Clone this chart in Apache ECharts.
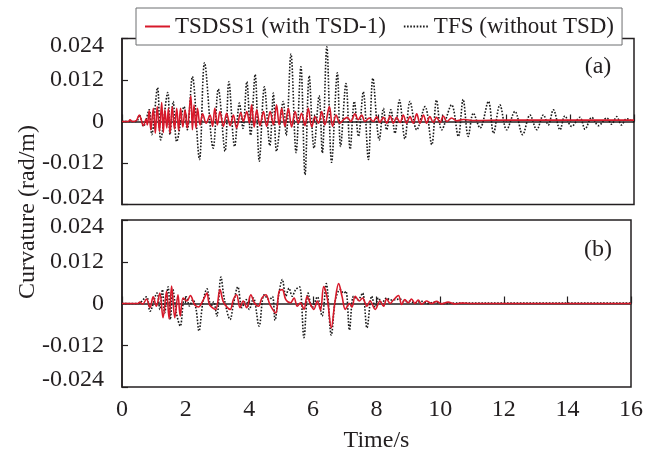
<!DOCTYPE html>
<html>
<head>
<meta charset="utf-8">
<script src="https://cdn.jsdelivr.net/npm/echarts@6/dist/echarts.min.js"></script>
<style>
  html, body { margin: 0; padding: 0; background: #fff; }
  #chart { width: 646px; height: 460px; }
</style>
</head>
<body>
<div id="chart"></div>
<script>
// names used in the legend
var nameTsd = 'TSDSS1 (with TSD-1)';
var nameTfs = 'TFS (without TSD)';

// x ticks (time, s) and y ticks (curvature, rad/m)
var timeTicks = [0, 2, 4, 6, 8, 10, 12, 14, 16];
var curvTicks = [-0.024, -0.012, 0, 0.012, 0.024];

// panel (a): [time, curvature]
var tsdA = [[0,0],[0.2,0],[0.25,0.0005],[0.32,0],[0.45,0.0003],[0.54,0.0019],[0.67,-0.0012],[0.75,0.0007],[0.79,-0.001],[0.85,0.0032],[0.9,-0.0024],[0.98,0.0038],[1.04,-0.0034],[1.1,0.0043],[1.17,-0.0029],[1.24,0.0055],[1.29,-0.0032],[1.34,0.0034],[1.4,-0.0019],[1.45,0.0038],[1.5,-0.0034],[1.57,0.0043],[1.64,-0.0022],[1.71,0.0038],[1.77,-0.0026],[1.83,0.0038],[1.9,-0.0016],[1.97,0.0034],[2.04,-0.0019],[2.15,0.0074],[2.2,-0.0024],[2.25,0.0048],[2.31,-0.0019],[2.36,0.0038],[2.44,-0.001],[2.52,0.0022],[2.63,-0.0005],[2.75,0.0019],[2.83,-0.0014],[2.9,0.0038],[2.98,-0.001],[3.06,0.0029],[3.17,-0.0014],[3.27,0.0024],[3.38,-0.0012],[3.48,0.0019],[3.58,-0.0019],[3.71,0.0026],[3.79,0],[3.9,0.0029],[3.98,-0.0005],[4.05,0.0048],[4.13,-0.0016],[4.21,0.0034],[4.31,-0.0012],[4.42,0.0029],[4.52,-0.0014],[4.63,0.0029],[4.73,-0.001],[4.83,0.0048],[4.91,-0.001],[4.99,0.0038],[5.09,-0.0014],[5.2,0.0038],[5.3,-0.0016],[5.41,0.0029],[5.51,-0.0005],[5.61,0.0024],[5.72,-0.0012],[5.82,0.0038],[5.93,-0.0016],[6.03,0.0014],[6.14,-0.0005],[6.24,0.0029],[6.34,-0.001],[6.48,0.0043],[6.58,-0.0014],[6.69,0.0019],[6.81,-0.0005],[6.92,0.0005],[7.04,0.0012],[7.15,0],[7.28,0.0022],[7.38,0.0005],[7.49,0.0019],[7.59,0],[7.73,0.001],[7.85,0],[7.96,0.0014],[8.06,-0.0003],[8.17,0.0012],[8.27,-0.0005],[8.38,0.0016],[8.48,-0.0005],[8.58,0.0012],[8.69,-0.0003],[8.79,0.0019],[8.89,-0.0005],[9.0,0.0014],[9.1,-0.0005],[9.21,0.0022],[9.31,-0.0005],[9.42,0.0019],[9.52,-0.0005],[9.62,0.0014],[9.73,-0.0003],[9.83,0.0012],[9.94,-0.0003],[10.04,0.0016],[10.15,0],[10.3,0.001],[10.46,0.0002],[10.67,0.0006],[11,0.0003],[12,0.0004],[13,0.0004],[14,0.0004],[15,0.0004],[16,0.0004]];

var tfsA = [[0,0],[0.45,0],[0.54,0.0019],[0.67,-0.0014],[0.85,0.0034],[0.93,-0.0038],[1.11,0.0098],[1.21,-0.0053],[1.43,0.0084],[1.5,-0.0038],[1.6,0.0058],[1.71,-0.0058],[1.94,0.0043],[2.04,-0.0024],[2.2,0.013],[2.42,-0.011],[2.58,0.017],[2.85,-0.0077],[3.01,0.0094],[3.22,-0.0086],[3.34,0.0115],[3.52,-0.0072],[3.67,0.0053],[3.78,-0.002],[3.9,0.0115],[4.02,-0.004],[4.16,0.0136],[4.29,-0.0115],[4.45,0.01],[4.62,-0.007],[4.73,0.0082],[4.83,-0.0086],[5.04,0.0058],[5.13,-0.004],[5.28,0.0195],[5.44,-0.009],[5.59,0.0158],[5.72,-0.0154],[5.85,0.0132],[6.0,-0.0077],[6.16,0.0074],[6.26,-0.0091],[6.4,0.0216],[6.55,-0.0118],[6.73,0.0141],[6.83,-0.0072],[7.0,0.011],[7.13,-0.008],[7.26,0.0058],[7.39,-0.0043],[7.54,0.0086],[7.7,-0.011],[7.84,0.0125],[8.04,-0.0053],[8.17,0.0038],[8.27,-0.0024],[8.4,0.0034],[8.53,-0.0034],[8.67,0.0062],[8.84,-0.005],[9.0,0.0058],[9.21,-0.0024],[9.47,0.0043],[9.68,-0.0067],[9.83,0.0062],[9.99,-0.0024],[10.3,0.0048],[10.51,-0.0043],[10.66,0.0064],[10.82,-0.0043],[10.98,0.0024],[11.19,-0.0019],[11.45,0.0058],[11.61,-0.0034],[11.81,0.0048],[12.02,-0.0024],[12.28,0.0029],[12.52,-0.0038],[12.75,0.0019],[12.96,-0.0024],[13.17,0.0019],[13.32,-0.001],[13.48,0.0034],[13.69,-0.0024],[13.84,0.0016],[14.05,-0.0014],[14.31,0.0012],[14.47,-0.0022],[14.68,0.0012],[14.89,-0.0012],[15.15,0.001],[15.3,-0.0008],[15.46,0.0014],[15.61,-0.001],[15.77,0.0008],[16,-0.0002]];

// panel (b)
var tsdB = [[0,0],[0.5,0],[0.56,0.0004],[0.65,-0.0002],[0.77,0.0013],[0.88,-0.0012],[0.98,0.0019],[1.08,-0.0008],[1.19,0.003],[1.29,-0.0041],[1.4,0.0035],[1.48,-0.0044],[1.56,0.005],[1.66,-0.0041],[1.76,0.0025],[1.83,-0.0036],[1.92,0.0016],[2.04,0.0007],[2.15,0.0023],[2.28,-0.0003],[2.4,-0.001],[2.56,0.0011],[2.67,0.003],[2.75,-0.0003],[2.94,-0.0017],[3.08,0.004],[3.19,0.0004],[3.4,-0.0017],[3.5,0.0011],[3.6,0.0025],[3.71,-0.0012],[3.81,0.0007],[3.92,-0.0012],[4.05,0.0025],[4.16,0.0002],[4.29,-0.0008],[4.4,0.0016],[4.52,0.0025],[4.65,-0.0003],[4.83,-0.0027],[4.94,0.0035],[5.04,0.004],[5.15,0.0011],[5.3,0.0002],[5.41,0.0016],[5.51,-0.0008],[5.61,0.0002],[5.72,-0.0017],[5.82,0.0021],[5.93,-0.0003],[6.03,-0.0017],[6.14,0.0007],[6.24,-0.0019],[6.34,0.0049],[6.45,0.0016],[6.58,-0.007],[6.69,0.0002],[6.81,0.0057],[6.92,0.0019],[7.02,-0.0017],[7.15,0],[7.23,-0.001],[7.33,0.0021],[7.46,0.0007],[7.56,0.0016],[7.7,-0.0008],[7.8,0.0007],[7.96,-0.0017],[8.11,0.0007],[8.22,-0.0008],[8.32,0.0013],[8.43,0],[8.53,0.001],[8.69,0.0023],[8.79,-0.0003],[8.89,0.0011],[9.0,0.0002],[9.1,0.0013],[9.21,0],[9.31,0.001],[9.42,-0.0002],[9.57,0.0007],[9.73,0],[9.89,0.0006],[10.04,-0.0001],[10.25,0.0004],[10.46,-0.0001],[10.67,0.0001],[11,0],[16,0]];

var tfsB = [[0,0],[0.5,0],[0.77,0.0019],[0.88,-0.0022],[1.1,0.003],[1.19,-0.0017],[1.27,0.004],[1.34,-0.0027],[1.45,0.0048],[1.52,-0.0046],[1.6,0.004],[1.71,-0.0027],[1.83,-0.0065],[1.94,0.0011],[2.02,0.0019],[2.12,-0.0007],[2.23,0.0011],[2.33,-0.0017],[2.42,-0.0079],[2.54,0.0002],[2.67,0.0042],[2.8,-0.0008],[2.88,0.0005],[2.98,-0.0036],[3.11,0.0076],[3.22,0.0011],[3.4,-0.0046],[3.5,-0.0003],[3.64,0.0048],[3.77,-0.0012],[3.9,0.0011],[4.0,-0.0017],[4.13,0.0016],[4.31,-0.0065],[4.47,0.0025],[4.63,0.0011],[4.73,0.002],[4.81,-0.0048],[4.92,0.0021],[5.04,0.0069],[5.15,0.0021],[5.25,0.0044],[5.35,0.0021],[5.46,0.004],[5.58,0.0048],[5.72,-0.0098],[5.85,0.003],[5.98,-0.0012],[6.14,0.0019],[6.29,-0.0036],[6.42,0.0057],[6.58,-0.0091],[6.71,0.0011],[6.86,0.004],[6.97,0.003],[7.04,0.0035],[7.15,-0.0076],[7.28,0.0021],[7.42,0.0011],[7.56,0.003],[7.7,-0.007],[7.85,0.0021],[7.96,-0.001],[8.06,0.0016],[8.17,0.0002],[8.32,0.0016],[8.43,0.001],[8.58,0.0011],[8.74,0.0013],[8.89,0.0005],[9.0,0.0007],[9.21,0.0002],[9.42,0.0006],[9.62,0],[9.83,0.0004],[10.04,0],[10.5,0.0001],[16,0.0001]];

var font = 'Liberation Serif';
var ink = '#231f20';
var red = '#d7192a';

var myChart = echarts.init(document.getElementById('chart'));

function xAxisFor(i) {
    return {
        type: 'value', gridIndex: i,
        min: timeTicks[0], max: timeTicks[timeTicks.length - 1], interval: 2,
        axisLine: {show: true, lineStyle: {color: ink, width: 1.5}},
        axisTick: {inside: true, length: 7, lineStyle: {color: ink, width: 1.2}},
        splitLine: {show: false},
        axisLabel: {show: i === 1, fontSize: 24, fontFamily: font, color: ink, margin: 11},
        name: i === 1 ? 'Time/s' : '',
        nameLocation: 'middle', nameGap: 42,
        nameTextStyle: {fontSize: 24, fontFamily: font, color: ink}
    };
}

// edge labels sit a little inside the frame, as in the original
function yAxisFor(i) {
    var lo = curvTicks[0], hi = curvTicks[curvTicks.length - 1];
    return {
        type: 'value', gridIndex: i,
        min: lo, max: hi, interval: 0.012,
        axisLine: {show: true, lineStyle: {color: ink, width: 1.5}},
        axisTick: {inside: true, length: 6, lineStyle: {color: ink, width: 1.2}},
        splitLine: {show: false},
        axisLabel: {
            showMinLabel: true, showMaxLabel: true,
            fontSize: 24, fontFamily: font, color: ink, margin: 18,
            formatter: function (v) {
                if (Math.abs(v) < 1e-9) return '0';
                var s = v.toFixed(3);
                if (Math.abs(v - hi) < 1e-9) return '{hi|' + s + '}';
                if (Math.abs(v - lo) < 1e-9) return '{lo|' + s + '}';
                return s;
            },
            rich: {
                hi: {fontSize: 24, fontFamily: font, color: ink, padding: [14, 0, 0, 0]},
                lo: {fontSize: 24, fontFamily: font, color: ink, padding: [0, 0, 14, 0]}
            }
        }
    };
}

function line(name, data, i, color, dotted) {
    return {
        name: name, type: 'line', xAxisIndex: i, yAxisIndex: i,
        data: data, symbol: 'none', smooth: 0.35,
        lineStyle: {color: color, width: 1.6, type: dotted ? [1.6, 1.6] : 'solid'},
        itemStyle: {color: color}
    };
}

var option = {
    animation: false,
    backgroundColor: '#fff',
    grid: [
        {left: 122, top: 38.5, width: 512, height: 166, show: true, borderColor: ink, borderWidth: 1.5},
        {left: 122, top: 220, width: 512, height: 167, show: true, borderColor: ink, borderWidth: 1.5}
    ],
    legend: {
        left: 136, top: 8, z: 10,
        data: [nameTsd, nameTfs],
        backgroundColor: '#fff', borderColor: '#6d6e70', borderWidth: 1,
        padding: [7, 8, 7, 8], itemWidth: 25, itemHeight: 12, itemGap: 17,
        itemStyle: {opacity: 0},
        textStyle: {fontSize: 23, fontFamily: font, color: ink}
    },
    xAxis: [xAxisFor(0), xAxisFor(1)],
    yAxis: [yAxisFor(0), yAxisFor(1)],
    series: [
        line(nameTfs, tfsA, 0, '#1a1a1a', true),
        line(nameTsd, tsdA, 0, red, false),
        line(nameTfs, tfsB, 1, '#1a1a1a', true),
        line(nameTsd, tsdB, 1, red, false)
    ],
    graphic: [
        {type: 'text', x: 28, y: 212, rotation: Math.PI / 2,
         style: {text: 'Curvature (rad/m)', font: '24px "Liberation Serif"', fill: ink, align: 'center', verticalAlign: 'middle'}},
        {type: 'text', x: 598, y: 67,
         style: {text: '(a)', font: '24px "Liberation Serif"', fill: ink, align: 'center', verticalAlign: 'middle'}},
        {type: 'text', x: 598, y: 250,
         style: {text: '(b)', font: '24px "Liberation Serif"', fill: ink, align: 'center', verticalAlign: 'middle'}}
    ]
};

myChart.setOption(option);
</script>
</body>
</html>
